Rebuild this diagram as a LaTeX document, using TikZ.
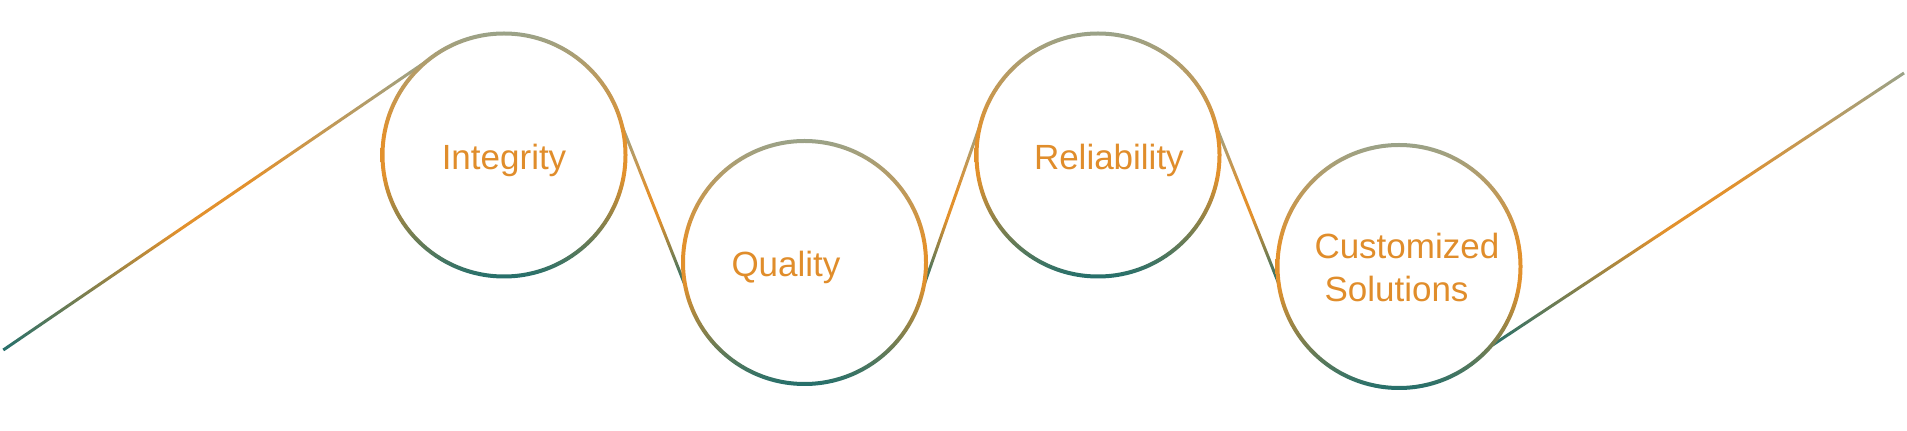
\documentclass[tikz,border=0pt]{standalone}
\usepackage{fontspec}
\setmainfont{Liberation Sans}
\usetikzlibrary{calc}
\definecolor{sage}{HTML}{9AA288}
\definecolor{amber}{HTML}{E2912D}
\definecolor{deepteal}{HTML}{236F6C}
\definecolor{labelorange}{HTML}{E08D2B}
\pgfdeclareverticalshading{strokeshade}{100bp}{color(0bp)=(deepteal); color(25bp)=(deepteal); color(46bp)=(amber); color(54bp)=(amber); color(75bp)=(sage); color(100bp)=(sage)}
\tikzset{
  ringnode/.style={circle, minimum size=243pt, inner sep=0pt, outer sep=0pt, draw=none},
  gradshade/.style={shading=strokeshade, draw=none},
  labeltext/.style={inner sep=0pt, outer sep=0pt, text=labelorange, font=\fontsize{35}{42}\selectfont},
}
\newcommand{\gradseg}[2]{%
  \shade[gradshade] ($(#1)!1.5pt!90:(#2)$) -- ($(#1)!1.5pt!-90:(#2)$)
    -- ($(#2)!1.5pt!90:(#1)$) -- ($(#2)!1.5pt!-90:(#1)$) -- cycle;}
\newcommand{\gradring}[1]{%
  \shade[gradshade, even odd rule] (#1.center) circle[radius=123.5pt] (#1.center) circle[radius=119.5pt];}
\begin{document}
\begin{tikzpicture}[x=1pt,y=1pt]
\useasboundingbox (0,0) rectangle (1907,431);
% circles
\node[ringnode] (c1) at (504,276) {};
\node[ringnode] (c2) at (804.5,168.5) {};
\node[ringnode] (c3) at (1098,276) {};
\node[ringnode] (c4) at (1399,164.5) {};
% free ends
\coordinate (s) at (3.3,81);
\coordinate (e) at (1904,358);
% connectors
\gradseg{s}{c1.129}
\gradseg{c1.14.8}{c2.191}
\gradseg{c2.-11}{c3.165.2}
\gradseg{c3.14}{c4.188}
\gradseg{c4.-41}{e}
% rings
\gradring{c1}
\gradring{c2}
\gradring{c3}
\gradring{c4}
% labels
\node[labeltext, anchor=base] (t1) at (504,261) {Integrity};
\node[labeltext, anchor=base west] (t2) at (731.5,154.3) {Quality};
\node[labeltext, anchor=base west] (t3) at (1034,261) {Reliability};
\node[labeltext, anchor=base west] (t4a) at (1314.5,172.7) {Customized};
\node[labeltext, anchor=base west] (t4b) at (1324.5,129.3) {Solutions};
\end{tikzpicture}
\end{document}
